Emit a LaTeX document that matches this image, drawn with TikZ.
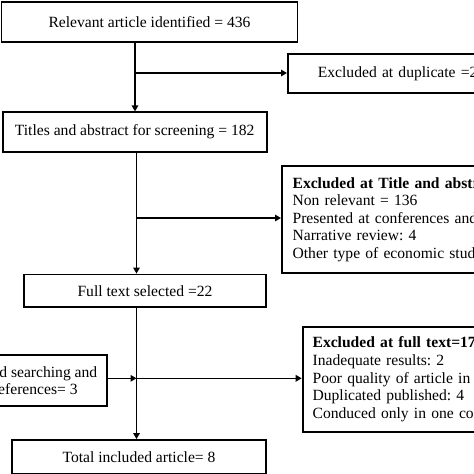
\documentclass[tikz,border=0pt]{standalone}
\usepackage{fontspec}
\setmainfont{Liberation Serif}
\usetikzlibrary{arrows.meta}
\frenchspacing
\begin{document}
\begin{tikzpicture}[x=1pt,y=-1pt,
  box/.style={draw=black, line width=1.8pt, inner ysep=0pt, font=\fontsize{15.6}{17.6}\selectfont},
  cbox/.style={box, align=center, inner xsep=0pt},
  lbox/.style={box, align=left, anchor=west},
  arr/.style={line width=1.6pt, -{Triangle[length=6pt,width=6.5pt]}}]
\useasboundingbox (0,0) rectangle (474,474);
\clip (0,0) rectangle (474,474);
\fill[white] (0,0) rectangle (474,474);

\node[cbox, minimum width=296pt, minimum height=39.4pt] (rel) at (149.5,22) {Relevant article identified = 436};
\node[lbox, minimum height=39.3pt, text width=300pt, inner xsep=30pt] (dup) at (287,73.7) {Excluded at duplicate =254};
\node[cbox, minimum width=264pt, minimum height=39.4pt] (scr) at (134.7,132) {Titles and abstract for screening = 182};
\node[lbox, minimum height=107pt, text width=400pt, inner xsep=10.7pt] (tit) at (281,219.5) {\textbf{Excluded at Title and abstract=160}\\Non relevant = 136\\Presented at conferences and abstract: 12\\Narrative review: 4\\Other type of economic studies: 8};
\node[cbox, minimum width=242pt, minimum height=32.4pt] (full) at (145,290.7) {Full text selected =22};
\node[cbox, minimum width=144pt, minimum height=51pt] (hand) at (35.3,380.5) {Hand searching and\\references= 3};
\node[lbox, minimum height=105pt, text width=400pt, inner xsep=10pt] (ftx) at (301.7,379.2) {\textbf{Excluded at full text=17}\\Inadequate results: 2\\Poor quality of article in analysis: 5\\Duplicated published: 4\\Conduced only in one country: 6};
\node[cbox, minimum width=254pt, minimum height=33.4pt] (tot) at (139,456.7) {Total included article= 8};

\coordinate (b1) at (135,73);
\coordinate (b2) at (136.5,218);
\coordinate (b3) at (136.5,378.3);

\draw[arr] (rel.south -| b1) -- (scr.north -| b1);
\draw[arr] (b1) -- (b1 -| dup.west);
\draw[arr] (scr.south -| b2) -- (full.north -| b2);
\draw[arr] (b2) -- (b2 -| tit.west);
\draw[arr] (full.south -| b3) -- (tot.north -| b3);
\draw[arr] (b3) -- (b3 -| ftx.west);
\draw[arr] (hand.east |- b3) -- (b3);
\end{tikzpicture}
\end{document}
